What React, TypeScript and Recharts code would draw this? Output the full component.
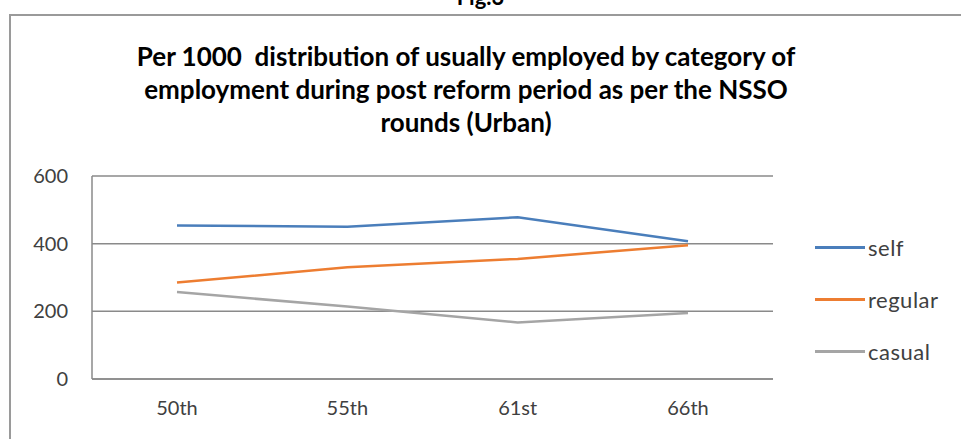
import React from "react";
import { LineChart, Line, XAxis, YAxis, CartesianGrid } from "recharts";

const rounds = ["50th", "55th", "61st", "66th"];
const selfVals = [454, 450, 478, 407];
const regularVals = [285, 330, 355, 395];
const casualVals = [257, 214, 167, 195];
const yTicks = [0, 200, 400, 600];
const titleLines = [
  "Per 1000  distribution of usually employed by category of",
  "employment during post reform period as per the NSSO",
  "rounds (Urban)",
];
const seriesKeys = ["self", "regular", "casual"];
const seriesColors = ["#4a7ebb", "#ed7d31", "#a5a5a5"];

const data = rounds.map((r, i) => ({
  round: r,
  self: selfVals[i],
  regular: regularVals[i],
  casual: casualVals[i],
}));

const FONT = "Lato, 'Open Sans', sans-serif";

export default function App() {
  return (
    <div style={{ position: "absolute", left: 0, top: 0, width: 961, height: 439, background: "#fff", overflow: "hidden" }}>
      <div style={{ position: "absolute", left: 0, width: 961, top: -17, textAlign: "center", fontFamily: FONT, fontWeight: 700, fontSize: 22 }}>
        Fig.3
      </div>
      <div style={{ position: "absolute", left: 9, top: 14, width: 960, height: 440, border: "2px solid #9a9a9a", boxSizing: "border-box" }} />
      <div style={{ position: "absolute", left: 0, top: 40, width: 932, textAlign: "center", fontFamily: FONT, fontWeight: 700, fontSize: 26, lineHeight: "33px", color: "#000", whiteSpace: "pre" }}>
        {titleLines.map((t) => (
          <div key={t}>{t}</div>
        ))}
      </div>
      <div style={{ position: "absolute", left: 0, top: 0 }}>
        <LineChart width={961} height={439} data={data} margin={{ top: 176, right: 188, bottom: 30, left: 32 }}>
          <CartesianGrid vertical={false} stroke="#8a8a8a" strokeWidth={1.5} />
          <XAxis dataKey="round" padding={{ left: 85, right: 85 }} axisLine={{ stroke: "#8a8a8a", strokeWidth: 1.5 }} tickLine={false} tick={{ fill: "#404040", fontSize: 20, fontFamily: FONT }} height={30} dy={14} />
          <YAxis domain={[0, 600]} ticks={yTicks} axisLine={{ stroke: "#8a8a8a", strokeWidth: 1.5 }} tickLine={false} tick={{ fill: "#404040", fontSize: 20, fontFamily: FONT }} width={60} dx={-16} />
          {seriesKeys.map((k, i) => (
            <Line key={k} dataKey={k} stroke={seriesColors[i]} strokeWidth={2.5} dot={false} isAnimationActive={false} />
          ))}
        </LineChart>
      </div>
      <div style={{ position: "absolute", left: 815, top: 221, fontFamily: FONT, fontSize: 22, color: "#404040", letterSpacing: 0.5 }}>
        {seriesKeys.map((k, i) => (
          <div key={k} style={{ display: "flex", alignItems: "center", height: 52 }}>
            <div style={{ width: 50, height: 3, background: seriesColors[i], marginRight: 3 }} />
            <span>{k}</span>
          </div>
        ))}
      </div>
    </div>
  );
}
